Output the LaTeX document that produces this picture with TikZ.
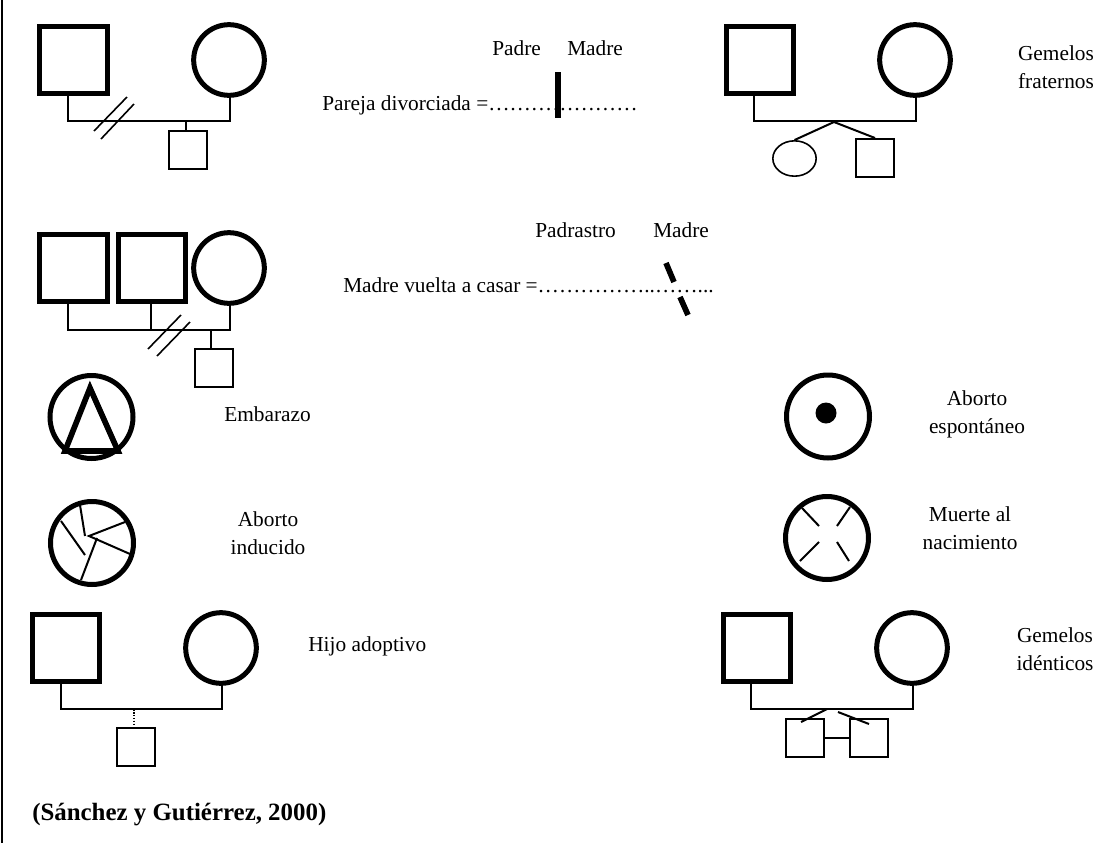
\documentclass[tikz,border=0pt]{standalone}
\usepackage{fontspec}
\setmainfont{Liberation Serif}
\usetikzlibrary{shapes.geometric}
\tikzset{
  padre/.style={draw, line width=4pt, minimum size=50.6pt, inner sep=0pt},
  madre/.style={draw, circle, line width=3.75pt, minimum size=53pt, inner sep=0pt},
  hijo/.style={draw, line width=1.5pt, minimum size=28.5pt, inner sep=0pt},
  hija/.style={draw, ellipse, line width=1.2pt, minimum width=32.5pt, minimum height=26.5pt, inner sep=0pt},
  feto/.style={draw, circle, line width=3.75pt, minimum size=62.25pt, inner sep=0pt},
  punto/.style={fill, circle, minimum size=15.75pt, inner sep=0pt},
  linea/.style={line width=1.5pt},
  corte/.style={line width=1.2pt},
  marca/.style={line width=4.25pt},
  texto/.style={font=\fontsize{16}{21}\selectfont, inner sep=0pt, align=center, anchor=base},
  textoizq/.style={font=\fontsize{16}{21}\selectfont, inner sep=0pt, align=left, anchor=base west}
}
\begin{document}
\begin{tikzpicture}[x=0.75pt, y=-0.75pt]
  \useasboundingbox (0,0) rectangle (1100,843);

  % Left border
  \coordinate (borde1) at (2,0);
  \coordinate (borde2) at (2,843);
  \draw[line width=1.9pt] (borde1) -- (borde2);

  % Divorced couple
  \node[padre] (p1) at (73.5,60) {};
  \node[madre] (m1) at (229,60) {};
  \node[hijo] (h1) at (187.5,149.5) {};
  \coordinate (a1) at (68,121);
  \coordinate (b1) at (230,121);
  \coordinate (c1) at (185.5,121);
  \draw[linea] (p1.south -| a1) -- (a1) -- (b1) -- (m1.south -| b1);
  \draw[linea] (c1) -- (h1.north -| c1);
  \draw[corte] (127,97) -- (94,131);
  \draw[corte] (134,104) -- (101,139);

  \node[textoizq] (padre1) at (492,55) {Padre};
  \node[textoizq] (madre1) at (567,55) {Madre};
  \node[textoizq] (pareja) at (322,110) {Pareja divorciada =…………………};
  \draw[marca] (558,72) -- (558,118);

  % Fraternal twins
  \node[padre] (p2) at (760,60) {};
  \node[madre] (m2) at (915,60) {};
  \node[hija] (h2) at (794.5,158.5) {};
  \node[hijo] (h3) at (875,158) {};
  \coordinate (a2) at (754,121);
  \coordinate (b2) at (916,121);
  \coordinate (c2) at (834,122);
  \draw[linea] (p2.south -| a2) -- (a2) -- (b2) -- (m2.south -| b2);
  \draw[linea] (c2) -- (h2.north);
  \draw[linea] (c2) -- (h3.north);
  \node[texto] (gemelos1) at (1056,88) {Gemelos\\fraternos};

  % Remarried mother
  \node[padre] (p3) at (73.5,268) {};
  \node[padre] (p4) at (152,268) {};
  \node[madre] (m3) at (229,268) {};
  \node[hijo] (h4) at (213.5,368) {};
  \coordinate (a3) at (68,329.5);
  \coordinate (b3) at (151,329.5);
  \coordinate (c3) at (230,329.5);
  \coordinate (d3) at (211,329.5);
  \draw[linea] (p3.south -| a3) -- (a3) -- (c3) -- (m3.south -| c3);
  \draw[linea] (p4.south -| b3) -- (b3);
  \draw[linea] (d3) -- (h4.north -| d3);
  \draw[corte] (181,315) -- (148,349);
  \draw[corte] (190,322) -- (157,356);

  \node[textoizq] (padrastro) at (535,237) {Padrastro};
  \node[textoizq] (madre2) at (653,237) {Madre};
  \node[textoizq] (vuelta) at (343,292) {Madre vuelta a casar =……………..……...};
  \draw[marca] (666,263) -- (674,282);
  \draw[marca] (680,297) -- (688,315);

  % Pregnancy
  \node[feto] (embarazo) at (91.5,417) {};
  \draw[marca] (90,388) -- (65,451) -- (118,451) -- cycle;
  \node[textoizq] (embtxt) at (224,421) {Embarazo};

  % Spontaneous abortion
  \node[feto] (espontaneo) at (828,416.5) {};
  \node[punto] (coagulo) at (826,413) {};
  \node[texto] (esptxt) at (977,433) {Aborto\\espontáneo};

  % Induced abortion
  \node[feto] (inducido) at (92,543) {};
  \draw[linea] (80,505) -- (85,536);
  \draw[linea] (61,521) -- (85,555);
  \draw[linea] (125,522) -- (89,536) -- (130,554);
  \draw[linea] (97,538) -- (81,580);
  \node[texto] (indtxt) at (268,554) {Aborto\\inducido};

  % Stillbirth
  \node[feto] (muerte) at (827,538) {};
  \draw[linea] (802,508) -- (819,526);
  \draw[linea] (850,507) -- (837,526);
  \draw[linea] (819,542) -- (800,561);
  \draw[linea] (837,542) -- (849,561);
  \node[texto] (muetxt) at (970,549) {Muerte al\\nacimiento};

  % Adopted child
  \node[padre] (p5) at (66,648) {};
  \node[madre] (m5) at (221,648) {};
  \node[hijo] (h5) at (136,746.5) {};
  \coordinate (a5) at (61,709);
  \coordinate (b5) at (222,709);
  \coordinate (c5) at (134,709);
  \draw[linea] (p5.south -| a5) -- (a5) -- (b5) -- (m5.south -| b5);
  \draw[line width=1.2pt, densely dotted] (c5) -- (h5.north -| c5);
  \node[textoizq] (adoptivo) at (308,651) {Hijo adoptivo};

  % Identical twins
  \node[padre] (p6) at (757,648) {};
  \node[madre] (m6) at (912,648) {};
  \node[hijo] (h6) at (805,738) {};
  \node[hijo] (h7) at (869,738) {};
  \coordinate (a6) at (751,709);
  \coordinate (b6) at (913,709);
  \draw[linea] (p6.south -| a6) -- (a6) -- (b6) -- (m6.south -| b6);
  \draw[linea] (827,709) -- (801,722);
  \draw[linea] (838,712) -- (869,724);
  \draw[linea] (h6.east) -- (h7.west);
  \node[texto] (gemelos2) at (1055,670) {Gemelos\\idénticos};

  % Source
  \node[inner sep=0pt, anchor=base west, font=\fontsize{18.67}{21}\selectfont\bfseries] (fuente) at (32,820) {(Sánchez y Gutiérrez, 2000)};
\end{tikzpicture}
\end{document}
